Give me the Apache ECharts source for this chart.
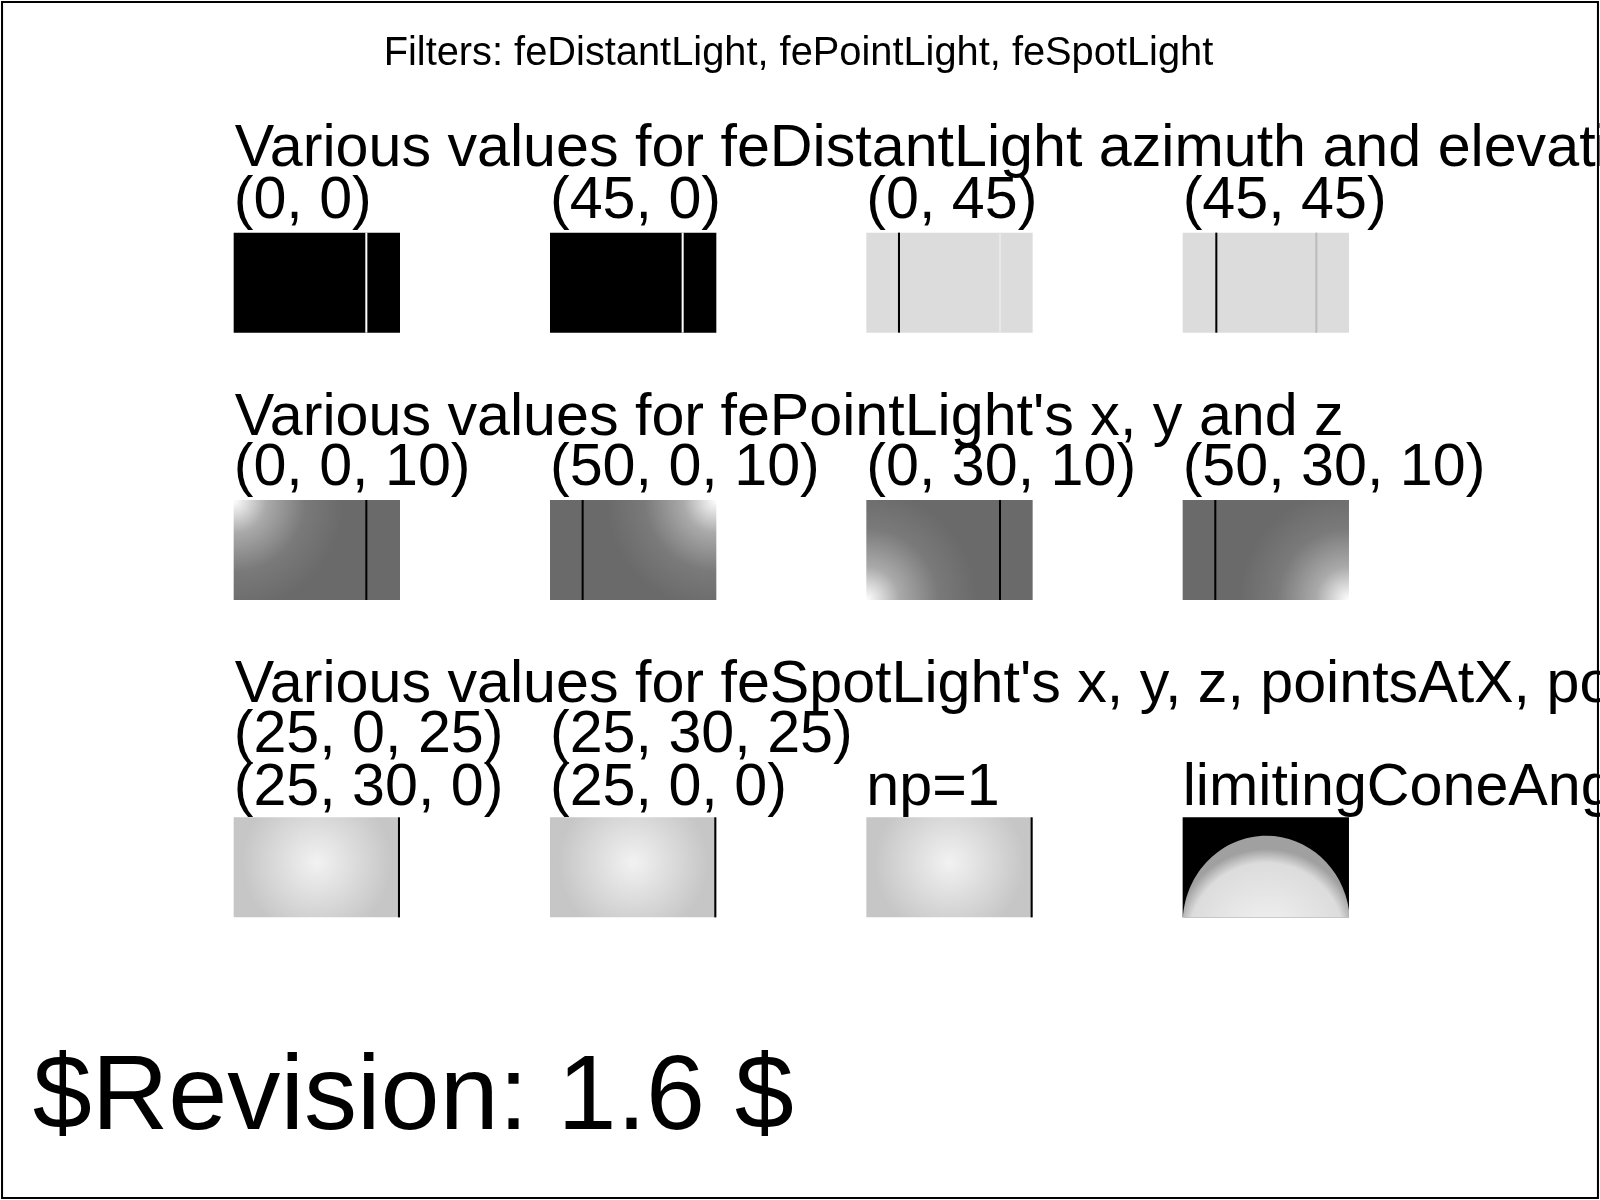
<!DOCTYPE html>
<html><head><meta charset="utf-8">
<script src="https://cdn.jsdelivr.net/npm/echarts@6/dist/echarts.min.js"></script>
<style>html,body{margin:0;background:#fff}#c{width:1600px;height:1200px}</style>
</head><body><div id="c"></div>
<script>
// 标题与文字
const title = 'Filters: feDistantLight, fePointLight, feSpotLight';
const headings = [
  'Various values for feDistantLight azimuth and elevation',
  "Various values for fePointLight's x, y and z",
  "Various values for feSpotLight's x, y, z, pointsAtX, pointsAtY"
];
const distantLabels = ['(0, 0)', '(45, 0)', '(0, 45)', '(45, 45)'];
const pointLabels = ['(0, 0, 10)', '(50, 0, 10)', '(0, 30, 10)', '(50, 30, 10)'];
const spotLabelsTop = ['(25, 0, 25)', '(25, 30, 25)', '', ''];
const spotLabelsBottom = ['(25, 30, 0)', '(25, 0, 0)', 'np=1', 'limitingConeAngle'];
const revision = '$Revision: 1.6 $';

// 每格: 底色, 竖线 [位置, 颜色]
const distantCells = [
  { fill: '#000', lines: [[130, '#fff']] },
  { fill: '#000', lines: [[130, '#fff']] },
  { fill: '#dcdcdc', lines: [[32, '#000'], [131, '#e8e8e8']] },
  { fill: '#dcdcdc', lines: [[33, '#000'], [131, '#bbb']] }
];
// 点光源中心 (相对坐标)
const pointCenters = [[0, 0], [1, 0], [0, 1], [1, 1]];
const pointLines = [130, 32, 131, 32];

const font = '"Liberation Sans", Arial, sans-serif';
const colX = [229, 539, 849, 1159];
const W = 163, H = 98;

let els = [];
els.push({ type: 'rect', shape: { x: 2, y: 2, width: 1564, height: 1172 }, style: { fill: 'none', stroke: '#000', lineWidth: 2 } });
els.push({ type: 'text', x: 376, y: 53, style: { text: title, font: '39px ' + font, fill: '#000', textVerticalAlign: 'middle' } });

function text(t, x, y, size) {
  els.push({ type: 'text', x: x, y: y, style: { text: t, font: size + 'px ' + font, fill: '#000', textVerticalAlign: 'bottom' } });
}
function vline(x, y, c) {
  els.push({ type: 'line', shape: { x1: x, y1: y, x2: x, y2: y + H }, style: { stroke: c, lineWidth: 2 } });
}

// 第一组
text(headings[0], 230, 176, 58);
distantLabels.forEach((l, i) => {
  text(l, colX[i], 227, 58);
  els.push({ type: 'rect', shape: { x: colX[i], y: 228, width: W, height: H }, style: { fill: distantCells[i].fill } });
  distantCells[i].lines.forEach(ln => vline(colX[i] + ln[0], 228, ln[1]));
});

// 第二组
text(headings[1], 230, 439, 58);
pointLabels.forEach((l, i) => {
  text(l, colX[i], 488, 58);
  const c = pointCenters[i];
  els.push({ type: 'rect', shape: { x: colX[i], y: 490, width: W, height: H },
    style: { fill: new echarts.graphic.RadialGradient(c[0], c[1], 1.1, [
      { offset: 0, color: '#fff' }, { offset: 0.3, color: '#aaa' }, { offset: 0.65, color: '#7a7a7a' }, { offset: 1, color: '#6a6a6a' }]) } });
  vline(colX[i] + pointLines[i], 490, '#000');
});

// 第三组
text(headings[2], 230, 701, 58);
spotLabelsTop.forEach((l, i) => { if (l) text(l, colX[i], 750, 58); });
spotLabelsBottom.forEach((l, i) => {
  text(l, colX[i], 802, 58);
  if (i < 3) {
    els.push({ type: 'rect', shape: { x: colX[i], y: 801, width: W, height: H },
      style: { fill: new echarts.graphic.RadialGradient(0.5, 0.45, 0.75, [
        { offset: 0, color: '#f2f2f2' }, { offset: 1, color: '#c6c6c6' }]) } });
    vline(colX[i] + W - 1, 801, '#000');
  } else {
    els.push({ type: 'rect', shape: { x: colX[i], y: 801, width: W, height: H }, style: { fill: '#000' } });
    els.push({ type: 'ellipse', shape: { cx: colX[i] + 82, cy: 801 + H + 6, rx: 82, ry: 86 },
      style: { fill: new echarts.graphic.RadialGradient(0.5, 0.6, 0.55, [
        { offset: 0, color: '#f4f4f4' }, { offset: 0.85, color: '#dcdcdc' }, { offset: 1, color: '#a0a0a0' }]) },
      clipPath: { type: 'rect', shape: { x: colX[i], y: 801, width: W, height: H } } });
  }
});

text(revision, 32, 1130, 104);

const chart = echarts.init(document.getElementById('c'));
chart.setOption({
  backgroundColor: '#fff',
  graphic: [{ type: 'group', scaleX: 1600 / 1568, scaleY: 1200 / 1176, children: els }]
});
</script></body></html>
